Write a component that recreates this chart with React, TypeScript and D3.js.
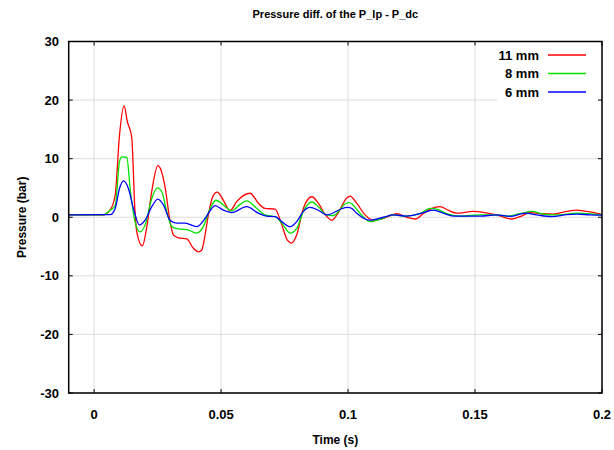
import React from "react";
import * as d3 from "d3";

const title = "Pressure diff. of the P_lp - P_dc";
const xLabel = "Time (s)";
const yLabel = "Pressure (bar)";
const xTicks = [0, 0.05, 0.1, 0.15, 0.2];
const xTickLabels = ["0", "0.05", "0.1", "0.15", "0.2"];
const yTicks = [-30, -20, -10, 0, 10, 20, 30];
const seriesNames = ["11 mm", "8 mm", "6 mm"];
const seriesColors = ["#ff0000", "#00e000", "#0000ff"];

// time (s)
const redT = [-0.01, 0.0035, 0.0063, 0.0083, 0.01, 0.0118, 0.0131, 0.0148, 0.0161, 0.0168, 0.019, 0.0207, 0.0227, 0.0251, 0.0263, 0.028, 0.0299, 0.0312, 0.0332, 0.0365, 0.0391, 0.0411, 0.0424, 0.0435, 0.045, 0.0468, 0.0485, 0.0509, 0.0535, 0.0562, 0.0614, 0.0647, 0.0673, 0.0713, 0.0739, 0.0761, 0.0778, 0.0798, 0.0824, 0.0857, 0.0883, 0.0909, 0.0936, 0.0956, 0.0995, 0.1008, 0.1034, 0.1067, 0.11, 0.1139, 0.1192, 0.1231, 0.1264, 0.1296, 0.133, 0.1362, 0.1395, 0.1428, 0.1493, 0.1533, 0.1585, 0.1644, 0.1677, 0.1717, 0.1763, 0.1808, 0.1861, 0.19, 0.194, 0.2];
const redV = [0.4, 0.4, 1.2, 3.8, 14.0, 19.0, 16.3, 13.7, 1.0, -2.5, -4.9, -1.8, 4.4, 8.8, 8.1, 5.0, -0.7, -3.0, -3.5, -3.7, -5.3, -5.9, -5.6, -3.5, 0.4, 3.6, 4.3, 2.9, 1.1, 2.7, 4.1, 2.4, 1.5, 1.4, -1.3, -3.9, -4.4, -3.0, 1.5, 3.5, 2.4, 0.5, -0.5, 0.4, 3.3, 3.6, 2.4, 0.4, -0.5, -0.2, 0.6, 0.0, -0.3, 0.6, 1.5, 1.8, 1.2, 0.7, 1.0, 0.85, 0.4, -0.3, 0.1, 0.8, 0.6, 0.55, 1.0, 1.2, 1.0, 0.5];

const greenT = [-0.01, 0.0035, 0.0063, 0.0083, 0.01, 0.0109, 0.0129, 0.0142, 0.0161, 0.0181, 0.0201, 0.0227, 0.0249, 0.0266, 0.0286, 0.0306, 0.0332, 0.0365, 0.0404, 0.043, 0.0457, 0.048, 0.0509, 0.0542, 0.0575, 0.0601, 0.0641, 0.0673, 0.0713, 0.0739, 0.0772, 0.0798, 0.0824, 0.0857, 0.0883, 0.0916, 0.0942, 0.099, 0.1005, 0.1047, 0.1087, 0.1126, 0.1178, 0.1231, 0.1283, 0.1323, 0.1349, 0.1388, 0.1441, 0.152, 0.1585, 0.1631, 0.1677, 0.1723, 0.1769, 0.1822, 0.19, 0.2];
const greenV = [0.4, 0.4, 1.2, 2.0, 9.5, 10.3, 10.2, 4.9, -0.75, -2.5, -1.3, 3.2, 5.0, 4.4, 1.0, -1.6, -2.0, -2.1, -2.7, -1.6, 1.5, 2.9, 2.1, 1.1, 2.2, 2.8, 1.5, 0.4, 0.1, -1.0, -2.7, -1.9, 1.0, 2.6, 1.8, 0.4, 0.3, 2.3, 2.5, 0.7, -0.75, -0.35, 0.4, 0.2, 0.6, 1.5, 1.4, 0.6, 0.2, 0.4, 0.4, 0.2, 0.6, 1.0, 0.55, 0.4, 0.7, 0.4];

const blueT = [-0.01, 0.0063, 0.0083, 0.01, 0.0116, 0.0135, 0.0155, 0.0178, 0.0201, 0.0227, 0.0251, 0.0273, 0.0299, 0.0326, 0.0358, 0.0404, 0.0437, 0.0463, 0.0476, 0.0509, 0.0542, 0.0601, 0.0647, 0.068, 0.0713, 0.0739, 0.0772, 0.0798, 0.0824, 0.085, 0.0883, 0.0916, 0.0985, 0.1, 0.1015, 0.1034, 0.1087, 0.1139, 0.1178, 0.1231, 0.1283, 0.1336, 0.1375, 0.1415, 0.152, 0.1585, 0.1638, 0.1697, 0.1743, 0.1802, 0.1861, 0.19, 0.1953, 0.2];
const blueV = [0.4, 0.45, 1.5, 4.9, 6.2, 4.9, 1.5, -1.3, -0.5, 1.8, 3.1, 2.1, -0.5, -1.0, -1.0, -1.6, -0.2, 1.5, 2.0, 1.2, 0.8, 1.8, 0.7, 0.2, 0.1, -0.75, -1.6, -0.75, 1.0, 1.7, 1.2, 0.4, 1.6, 1.7, 1.5, 0.7, -0.5, 0.0, 0.4, 0.2, 0.6, 1.2, 0.7, 0.2, 0.2, 0.4, 0.15, 0.7, 0.4, 0.1, 0.45, 0.55, 0.4, 0.35];

const seriesT = [redT, greenT, blueT];
const seriesV = [redV, greenV, blueV];

const W = 614;
const H = 450;
const L = 68.7;
const R = 602;
const T = 41.5;
const B = 393;

export default function App() {
  const x = d3.scaleLinear().domain([-0.01, 0.2]).range([L, R]);
  const y = d3.scaleLinear().domain([-30, 30]).range([B, T]);
  const line = d3
    .line<[number, number]>()
    .x((d) => x(d[0]))
    .y((d) => y(d[1]))
    .curve(d3.curveMonotoneX);
  const font = "'Liberation Sans', Arial, Helvetica, sans-serif";
  const tick = 4;
  return (
    <svg
      width={W}
      height={H}
      style={{ position: "absolute", left: 0, top: 0, background: "#fff" }}
      fontFamily={font}
    >
      <rect x={0} y={0} width={W} height={H} fill="#fff" />
      <defs>
        <clipPath id="plot">
          <rect x={L} y={T} width={R - L} height={B - T} />
        </clipPath>
      </defs>
      {/* grid */}
      {xTicks.map((t) => (
        <line key={"gx" + t} x1={x(t)} x2={x(t)} y1={T} y2={B} stroke="#dedede" strokeWidth={1} />
      ))}
      {yTicks.map((t) => (
        <line key={"gy" + t} x1={L} x2={R} y1={y(t)} y2={y(t)} stroke="#dedede" strokeWidth={1} />
      ))}
      {/* series */}
      <g clipPath="url(#plot)">
        {seriesT.map((ts, i) => {
          const pts: [number, number][] = ts.map((t, j) => [t, seriesV[i][j]]);
          return (
            <path key={"s" + i} d={line(pts) || ""} fill="none" stroke={seriesColors[i]} strokeWidth={1.3} strokeLinejoin="round" />
          );
        })}
      </g>
      {/* legend */}
      <rect x={497} y={T + 1} width={R - 497 - 1} height={104 - T} fill="#fff" />
      {seriesNames.map((n, i) => {
        const yy = 55 + i * 18.5;
        return (
          <g key={"lg" + i}>
            <text x={539} y={yy} dy="0.35em" textAnchor="end" fontSize={13} fontWeight="bold" fill="#000">
              {n}
            </text>
            <line x1={548} x2={586} y1={yy} y2={yy} stroke={seriesColors[i]} strokeWidth={1.3} />
          </g>
        );
      })}
      {/* ticks */}
      {xTicks.map((t) => (
        <g key={"tx" + t}>
          <line x1={x(t)} x2={x(t)} y1={B} y2={B - tick} stroke="#000" strokeWidth={1} />
          <line x1={x(t)} x2={x(t)} y1={T} y2={T + tick} stroke="#000" strokeWidth={1} />
        </g>
      ))}
      {yTicks.map((t) => (
        <g key={"ty" + t}>
          <line x1={L} x2={L + tick} y1={y(t)} y2={y(t)} stroke="#000" strokeWidth={1} />
          <line x1={R} x2={R - tick} y1={y(t)} y2={y(t)} stroke="#000" strokeWidth={1} />
        </g>
      ))}
      {/* frame */}
      <rect x={L} y={T} width={R - L} height={B - T} fill="none" stroke="#000" strokeWidth={1.5} />
      {/* tick labels */}
      {xTicks.map((t, i) => (
        <text key={"lx" + t} x={x(t)} y={414} dy="0.35em" textAnchor="middle" fontSize={13} fontWeight="bold" fill="#000">
          {xTickLabels[i]}
        </text>
      ))}
      {yTicks.map((t) => (
        <text key={"ly" + t} x={59} y={y(t)} dy="0.35em" textAnchor="end" fontSize={13} fontWeight="bold" fill="#000">
          {t}
        </text>
      ))}
      {/* titles */}
      <text x={(L + R) / 2} y={14} dy="0.35em" textAnchor="middle" fontSize={11} fontWeight="bold" fill="#000">
        {title}
      </text>
      <text x={(L + R) / 2} y={440} dy="0.35em" textAnchor="middle" fontSize={12} fontWeight="bold" fill="#000">
        {xLabel}
      </text>
      <text
        transform={`translate(22,${(T + B) / 2}) rotate(-90)`}
        dy="0.35em"
        textAnchor="middle"
        fontSize={12}
        fontWeight="bold"
        fill="#000"
      >
        {yLabel}
      </text>
    </svg>
  );
}
